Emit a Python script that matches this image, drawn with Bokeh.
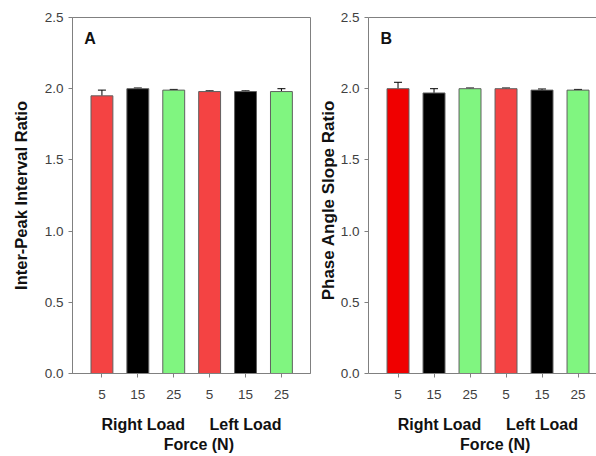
from bokeh.plotting import figure
from bokeh.layouts import row
from bokeh.models import (Range1d, FixedTicker, LinearAxis, Label, Whisker, TeeHead,
                          ColumnDataSource)
from bokeh.embed import file_html
from bokeh.resources import INLINE

# ---- data ----
force_labels = ["5", "15", "25", "5", "15", "25"]
group_labels = ["Right Load", "Left Load"]
values_a = [1.95, 2.00, 1.99, 1.98, 1.98, 1.98]
errors_a = [0.04, 0.005, 0.005, 0.005, 0.005, 0.02]
values_b = [2.00, 1.97, 2.00, 2.00, 1.99, 1.99]
errors_b = [0.045, 0.03, 0.005, 0.005, 0.008, 0.005]
colors_a = ["#F44343", "#000000", "#80F580", "#F44343", "#000000", "#80F580"]
colors_b = ["#F00000", "#000000", "#80F580", "#F44343", "#000000", "#80F580"]
y_ticks = [0.0, 0.5, 1.0, 1.5, 2.0, 2.5]

FONT = "Liberation Sans"
AXIS_GRAY = "#808080"
TICK_TXT = "#404040"


def make_panel(values, errors, colors, ylabel, ylabel_size, letter, width, border_left,
               border_right, x_end, label_standoff, box):
    xs = list(range(len(values)))
    p = figure(width=width, height=456, output_backend="svg", toolbar_location=None,
               x_range=Range1d(-0.82, x_end), y_range=Range1d(0, 2.5),
               min_border_left=border_left, min_border_right=border_right,
               min_border_top=17, min_border_bottom=83)
    p.background_fill_color = "white"
    p.border_fill_color = "white"
    p.grid.visible = False
    if box:
        p.outline_line_color = AXIS_GRAY
        p.outline_line_width = 1
    else:
        p.outline_line_color = None

    src = ColumnDataSource(dict(x=xs, top=values, color=colors,
                                upper=[v + e for v, e in zip(values, errors)]))
    p.vbar(x="x", top="top", width=0.61, bottom=0, source=src, fill_color="color",
           line_color="#606060", line_width=1)
    p.add_layout(Whisker(base="x", lower="top", upper="upper", source=src,
                         dimension="height", lower_head=None,
                         upper_head=TeeHead(size=8, line_color="black", line_width=1),
                         line_color="black", line_width=1))

    # y axis
    ya = p.yaxis[0]
    ya.ticker = FixedTicker(ticks=y_ticks)
    ya.major_label_overrides = {t: f"{t:.1f}" for t in y_ticks}
    ya.minor_tick_line_color = None
    ya.major_tick_in = 0
    ya.major_tick_out = 4
    ya.major_tick_line_color = AXIS_GRAY
    ya.axis_line_color = AXIS_GRAY
    ya.major_label_standoff = 5
    ya.major_label_text_font = FONT
    ya.major_label_text_font_size = "13.5px"
    ya.major_label_text_color = TICK_TXT
    ya.axis_label = ylabel
    ya.axis_label_text_font = FONT
    ya.axis_label_text_font_style = "bold"
    ya.axis_label_text_font_size = ylabel_size
    ya.axis_label_text_color = "#111111"
    ya.axis_label_standoff = label_standoff

    # x axis (forces)
    xa = p.xaxis[0]
    xa.ticker = FixedTicker(ticks=xs)
    xa.major_label_overrides = {i: s for i, s in zip(xs, force_labels)}
    xa.minor_tick_line_color = None
    xa.major_tick_in = 0
    xa.major_tick_out = 4
    xa.major_tick_line_color = AXIS_GRAY
    xa.axis_line_color = AXIS_GRAY
    xa.major_label_standoff = 12
    xa.major_label_text_font = FONT
    xa.major_label_text_font_size = "13.5px"
    xa.major_label_text_color = TICK_TXT

    # group axis
    ga = LinearAxis(ticker=FixedTicker(ticks=[1.15, 4.0]),
                    major_label_overrides={1.15: group_labels[0], 4.0: group_labels[1]})
    # force title axis
    fa = LinearAxis(ticker=FixedTicker(ticks=[2.7]),
                    major_label_overrides={2.7: "Force (N)"})
    for ax, st in ((ga, 14), (fa, 0)):
        ax.axis_line_color = None
        ax.major_tick_line_color = None
        ax.minor_tick_line_color = None
        ax.major_tick_in = 0
        ax.major_tick_out = 0
        ax.major_label_standoff = st
        ax.major_label_text_font = FONT
        ax.major_label_text_font_style = "bold"
        ax.major_label_text_font_size = "16px"
        ax.major_label_text_color = "#111111"
        p.add_layout(ax, "below")

    if not box:
        ta = LinearAxis(ticker=FixedTicker(ticks=[]))
        ta.axis_line_color = AXIS_GRAY
        ta.major_tick_line_color = None
        ta.minor_tick_line_color = None
        ta.major_label_text_font_size = "0px"
        ta.major_tick_in = 0
        ta.major_tick_out = 0
        ta.major_label_standoff = 0
        p.add_layout(ta, "above")

    p.add_layout(Label(x=-0.49, y=2.353, text=letter, text_font=FONT,
                       text_font_style="bold", text_font_size="16px",
                       text_color="#111111", text_baseline="middle", text_align="left"))
    return p


pa = make_panel(values_a, errors_a, colors_a, "Inter-Peak Interval Ratio", "16.5px", "A",
                width=312, border_left=72, border_right=2, x_end=5.81,
                label_standoff=12, box=True)
pb = make_panel(values_b, errors_b, colors_b, "Phase Angle Slope Ratio\u00a0\u00a0", "17px", "B",
                width=284, border_left=56, border_right=0, x_end=-0.82 + 228 / 36,
                label_standoff=0, box=False)

layout = row(pa, pb)
open("out.html", "w").write(file_html(layout, INLINE))
